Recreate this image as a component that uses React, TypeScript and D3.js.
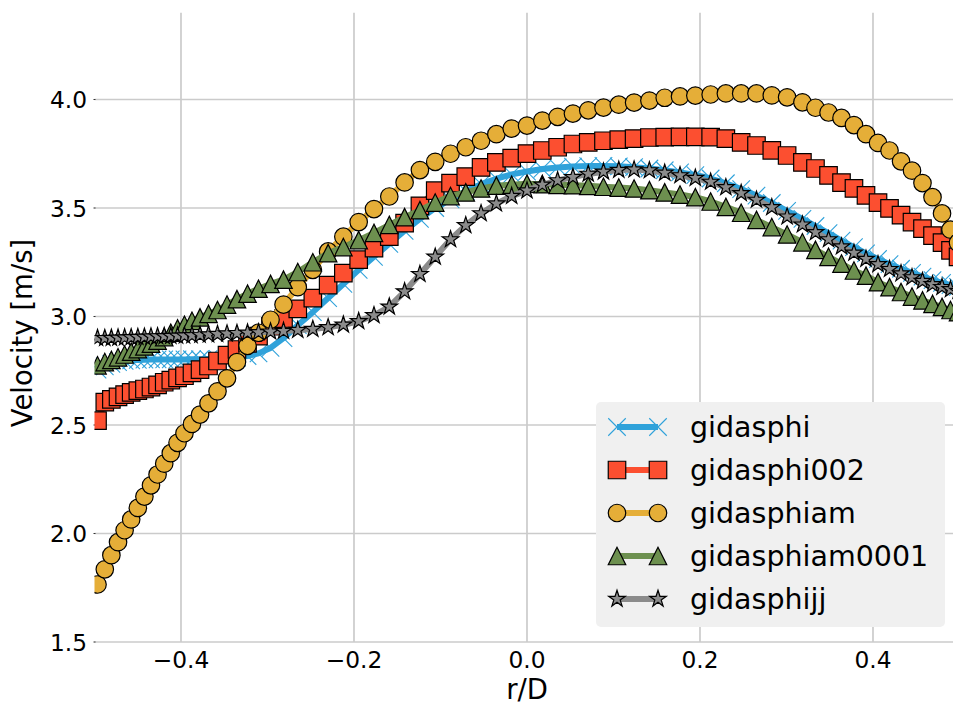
import React from 'react';
import * as d3 from 'd3';

// r/D sample positions (shared by all series)
const rD = [-0.4965, -0.4881, -0.4805, -0.4728, -0.4652, -0.4576, -0.4499, -0.4423, -0.4347, -0.4271,
  -0.4194, -0.4118, -0.4040, -0.3960, -0.3873, -0.3780, -0.3682, -0.3578, -0.3468, -0.3353,
  -0.3231, -0.3104, -0.2965, -0.2815, -0.2650, -0.2476, -0.2299, -0.2123, -0.1946, -0.1769,
  -0.1592, -0.1415, -0.1238, -0.1061, -0.0884, -0.0708, -0.0531, -0.0354, -0.0177, 0,
  0.0177, 0.0354, 0.0531, 0.0708, 0.0884, 0.1061, 0.1238, 0.1415, 0.1592, 0.1769,
  0.1946, 0.2123, 0.2299, 0.2476, 0.2653, 0.2830, 0.3007, 0.3184, 0.3335, 0.3486,
  0.3636, 0.3780, 0.3919, 0.4058, 0.4191, 0.4324, 0.4451, 0.4572, 0.4688, 0.4798,
  0.4896, 0.4983];

const gidasphi = [2.755, 2.770, 2.782, 2.790, 2.795, 2.798, 2.800, 2.801, 2.802, 2.802,
  2.802, 2.802, 2.802, 2.802, 2.803, 2.803, 2.804, 2.805, 2.807, 2.810,
  2.818, 2.830, 2.855, 2.900, 2.960, 3.020, 3.085, 3.150, 3.215, 3.275,
  3.335, 3.395, 3.450, 3.500, 3.540, 3.578, 3.610, 3.635, 3.655, 3.668,
  3.680, 3.687, 3.691, 3.693, 3.694, 3.692, 3.688, 3.682, 3.674, 3.664,
  3.652, 3.636, 3.614, 3.587, 3.557, 3.523, 3.487, 3.450, 3.417, 3.384,
  3.350, 3.320, 3.291, 3.265, 3.241, 3.220, 3.201, 3.184, 3.168, 3.155,
  3.145, 3.137];

const gidasphi002 = [2.520, 2.605, 2.618, 2.630, 2.640, 2.650, 2.658, 2.666, 2.675, 2.685,
  2.697, 2.707, 2.717, 2.727, 2.740, 2.755, 2.772, 2.795, 2.822, 2.848,
  2.876, 2.910, 2.955, 2.990, 3.035, 3.085, 3.145, 3.200, 3.262, 3.315,
  3.368, 3.430, 3.510, 3.580, 3.615, 3.645, 3.687, 3.710, 3.730, 3.751,
  3.765, 3.780, 3.795, 3.802, 3.810, 3.815, 3.820, 3.825, 3.827, 3.828,
  3.828, 3.827, 3.820, 3.802, 3.788, 3.766, 3.742, 3.710, 3.682, 3.650,
  3.617, 3.590, 3.558, 3.525, 3.498, 3.467, 3.435, 3.405, 3.373, 3.340,
  3.305, 3.275];

const gidasphiam = [1.765, 1.835, 1.900, 1.960, 2.015, 2.065, 2.118, 2.170, 2.222, 2.272,
  2.322, 2.370, 2.418, 2.462, 2.505, 2.548, 2.600, 2.655, 2.715, 2.790,
  2.865, 2.925, 2.985, 3.055, 3.135, 3.215, 3.300, 3.368, 3.435, 3.495,
  3.553, 3.618, 3.675, 3.713, 3.750, 3.780, 3.810, 3.840, 3.866, 3.880,
  3.903, 3.920, 3.935, 3.950, 3.963, 3.976, 3.986, 3.995, 4.008, 4.014,
  4.018, 4.023, 4.028, 4.028, 4.028, 4.019, 4.010, 3.987, 3.962, 3.940,
  3.915, 3.882, 3.840, 3.800, 3.765, 3.715, 3.672, 3.615, 3.550, 3.475,
  3.400, 3.340];

const gidasphiam0001 = [2.775, 2.790, 2.800, 2.812, 2.825, 2.838, 2.850, 2.862, 2.875, 2.889,
  2.905, 2.925, 2.945, 2.962, 2.980, 2.996, 3.012, 3.030, 3.055, 3.080,
  3.105, 3.128, 3.150, 3.170, 3.205, 3.250, 3.292, 3.320, 3.352, 3.385,
  3.422, 3.458, 3.490, 3.525, 3.555, 3.572, 3.590, 3.603, 3.607, 3.612,
  3.610, 3.607, 3.605, 3.602, 3.598, 3.594, 3.590, 3.582, 3.572, 3.562,
  3.550, 3.530, 3.505, 3.478, 3.445, 3.412, 3.378, 3.342, 3.307, 3.275,
  3.244, 3.212, 3.188, 3.158, 3.135, 3.113, 3.092, 3.074, 3.058, 3.044,
  3.030, 3.020];

const gidasphijj = [2.900, 2.900, 2.901, 2.902, 2.903, 2.904, 2.905, 2.906, 2.907, 2.908,
  2.909, 2.910, 2.911, 2.912, 2.913, 2.915, 2.917, 2.919, 2.921, 2.923,
  2.925, 2.927, 2.930, 2.933, 2.937, 2.942, 2.950, 2.962, 2.978, 3.005,
  3.045, 3.115, 3.195, 3.275, 3.355, 3.420, 3.475, 3.520, 3.555, 3.580,
  3.607, 3.627, 3.642, 3.657, 3.667, 3.675, 3.677, 3.673, 3.662, 3.650,
  3.638, 3.620, 3.595, 3.568, 3.537, 3.503, 3.460, 3.423, 3.388, 3.355,
  3.322, 3.293, 3.265, 3.240, 3.218, 3.198, 3.180, 3.163, 3.148, 3.135,
  3.125, 3.117];

const seriesNames = ['gidasphi', 'gidasphi002', 'gidasphiam', 'gidasphiam0001', 'gidasphijj'];
const seriesValues = [gidasphi, gidasphi002, gidasphiam, gidasphiam0001, gidasphijj];
const seriesColors = ['#30a2da', '#fc4f30', '#e5ae38', '#6d904f', '#8b8b8b'];
const seriesMarkers = ['x', 's', 'o', '^', '*'];

const xTicks = [-0.4, -0.2, 0.0, 0.2, 0.4];
const yTicks = [1.5, 2.0, 2.5, 3.0, 3.5, 4.0];

const W = 953;
const H = 713;
const FONT = 'DejaVu Sans, sans-serif';
const MS = 17.5; // marker size in px
const LW = 6; // line width in px

const PLOT = { left: 94.5, right: 959.5, top: 12.7, bottom: 642 };

function markerPath(type: string, s: number): string {
  const h = s / 2;
  switch (type) {
    case 'x':
      return `M${-h},${-h}L${h},${h}M${-h},${h}L${h},${-h}`;
    case 's':
      return `M${-h},${-h}L${h},${-h}L${h},${h}L${-h},${h}Z`;
    case 'o':
      return `M${h},0A${h},${h},0,1,1,${-h},0A${h},${h},0,1,1,${h},0Z`;
    case '^':
      return `M0,${-h}L${-h},${h}L${h},${h}Z`;
    case '*': {
      const pts: string[] = [];
      for (let i = 0; i < 10; i++) {
        const a = -Math.PI / 2 + (i * Math.PI) / 5;
        const r = i % 2 === 0 ? h : h * 0.381966;
        pts.push(`${(r * Math.cos(a)).toFixed(2)},${(r * Math.sin(a)).toFixed(2)}`);
      }
      return 'M' + pts.join('L') + 'Z';
    }
    default:
      return '';
  }
}

function Marker({ type, color, cx, cy }: { type: string; color: string; cx: number; cy: number }) {
  const d = markerPath(type, MS);
  if (type === 'x') {
    return <path d={d} transform={`translate(${cx},${cy})`} fill="none" stroke={color} strokeWidth={1.1} />;
  }
  return (
    <path d={d} transform={`translate(${cx},${cy})`} fill={color} stroke="#000" strokeWidth={1.2} strokeLinejoin="miter" />
  );
}

export default function App() {
  const x = d3.scaleLinear().domain([-0.5, 0.5]).range([PLOT.left, PLOT.right]);
  const y = d3.scaleLinear().domain([1.5, 4.4]).range([PLOT.bottom, PLOT.top]);
  const fmt = d3.format('.1f');

  const line = d3
    .line<[number, number]>()
    .x((d) => x(d[0]))
    .y((d) => y(d[1]));

  const legendX = 596;
  const legendY = 402;
  const legendW = 349;
  const legendH = 225;
  const rowH = 43;
  const firstRow = 427;

  return (
    <svg width={W} height={H} style={{ position: 'absolute', left: 0, top: 0, background: '#fff' }} fontFamily={FONT}>
      <defs>
        <clipPath id="plotclip">
          <rect x={PLOT.left} y={PLOT.top} width={PLOT.right - PLOT.left} height={PLOT.bottom - PLOT.top} />
        </clipPath>
      </defs>
      <rect x={0} y={0} width={W} height={H} fill="#fff" />
      {/* grid */}
      <g stroke="#cbcbcb" strokeWidth={1.7}>
        {xTicks.map((t) => (
          <line key={'gx' + t} x1={x(t)} x2={x(t)} y1={PLOT.top} y2={PLOT.bottom} />
        ))}
        {yTicks.map((t) => (
          <line key={'gy' + t} x1={PLOT.left} x2={PLOT.right} y1={y(t)} y2={y(t)} />
        ))}
      </g>
      {/* tick marks */}
      <g stroke="#333" strokeWidth={1}>
        {yTicks.map((t) => (
          <line key={'ty' + t} x1={PLOT.left - 1} x2={PLOT.left + 1} y1={y(t)} y2={y(t)} />
        ))}
      </g>
      {/* tick labels */}
      <g fontSize={23.3} fill="#000">
        {yTicks.map((t) => (
          <text key={'ly' + t} x={87} y={y(t) + 8.5} textAnchor="end">
            {fmt(t)}
          </text>
        ))}
        {xTicks.map((t) => (
          <text key={'lx' + t} x={x(t)} y={668} textAnchor="middle">
            {fmt(t)}
          </text>
        ))}
      </g>
      {/* axis labels */}
      <text x={x(0)} y={699} textAnchor="middle" fontSize={27.5} fill="#000">
        r/D
      </text>
      <text transform={`translate(32,333) rotate(-90)`} textAnchor="middle" fontSize={27.5} fill="#000">
        Velocity [m/s]
      </text>
      {/* series */}
      <g clipPath="url(#plotclip)">
        {seriesValues.map((vals, si) => {
          const pts = rD.map((r, i) => [r, vals[i]] as [number, number]);
          return (
            <g key={seriesNames[si]}>
              <path d={line(pts) || ''} fill="none" stroke={seriesColors[si]} strokeWidth={LW} strokeLinejoin="round" />
              {pts.map((p, i) => (
                <Marker key={i} type={seriesMarkers[si]} color={seriesColors[si]} cx={x(p[0])} cy={y(p[1])} />
              ))}
            </g>
          );
        })}
      </g>
      {/* legend */}
      <g>
        <rect x={legendX} y={legendY} width={legendW} height={legendH} rx={5} ry={5} fill="#f0f0f0" />
        {seriesNames.map((name, si) => {
          const cy = firstRow + si * rowH;
          return (
            <g key={'lg' + name}>
              <line x1={617} x2={658} y1={cy} y2={cy} stroke={seriesColors[si]} strokeWidth={LW} />
              <Marker type={seriesMarkers[si]} color={seriesColors[si]} cx={617} cy={cy} />
              <Marker type={seriesMarkers[si]} color={seriesColors[si]} cx={658} cy={cy} />
              <text x={690} y={cy + 10} fontSize={28.5} fill="#000">
                {name}
              </text>
            </g>
          );
        })}
      </g>
    </svg>
  );
}
